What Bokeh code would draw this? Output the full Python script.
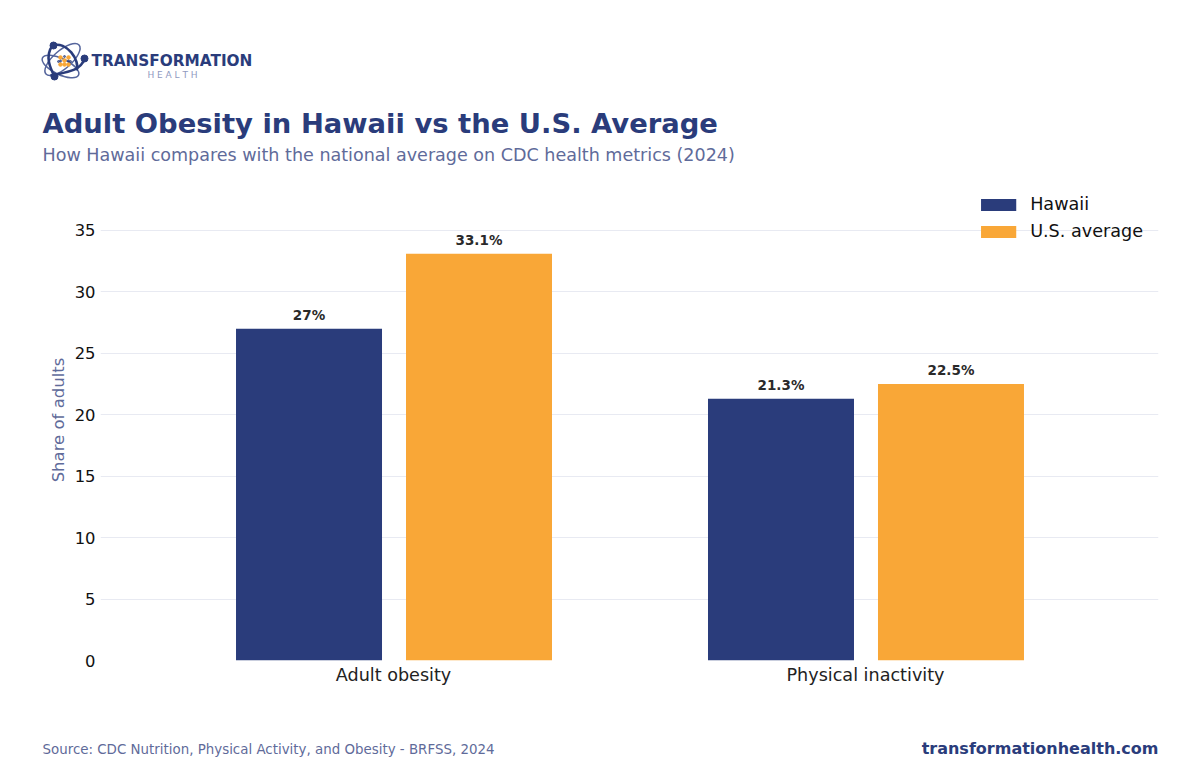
from bokeh.plotting import figure
from bokeh.core.properties import value
from bokeh.models import ColumnDataSource, FactorRange, Range1d, FixedTicker, Legend, LegendItem
from bokeh.layouts import column
from bokeh.transform import dodge
from bokeh.embed import file_html
from bokeh.resources import INLINE

categories = ["Adult obesity", "Physical inactivity"]
hawaii = [27, 21.3]
us_average = [33.1, 22.5]
y_ticks = [0, 5, 10, 15, 20, 25, 30, 35]
title_text = "Adult Obesity in Hawaii vs the U.S. Average"
subtitle_text = "How Hawaii compares with the national average on CDC health metrics (2024)"
source_text = "Source: CDC Nutrition, Physical Activity, and Obesity - BRFSS, 2024"
site_text = "transformationhealth.com"

NAVY = "#2a3c7b"
ORANGE = "#f9a737"
MUTED = "#5f6b9a"
FONT = "DejaVu Sans"
F = value(FONT)


def canvas(w, h, x0, x1, y0, y1):
    f = figure(width=w, height=h, x_range=Range1d(x0, x1), y_range=Range1d(y0, y1),
               output_backend="svg", toolbar_location=None, min_border=0,
               outline_line_color=None, x_axis_type=None, y_axis_type=None)
    f.grid.visible = False
    return f


# header: page-pixel coordinates
head = canvas(1190, 170, 0, 1190, 170, 0)
head.ellipse(x=[62], y=[59], width=[44], height=[18], angle=[0.72], fill_alpha=0,
             line_color="#55659c", line_width=1.5)
head.ellipse(x=[60], y=[66], width=[40], height=[16], angle=[-0.45], fill_alpha=0,
             line_color="#55659c", line_width=1.5)
head.bezier(x0=[52, 84], y0=[45, 58], x1=[76, 50], y1=[70, 75], cx0=[66, 80], cy0=[40, 72],
            cx1=[80, 62], cy1=[60, 72], line_color=NAVY, line_width=2.6)
head.bezier(x0=[52], y0=[45], x1=[54], y1=[76], cx0=[44], cy0=[56], cx1=[50], cy1=[68],
            line_color=NAVY, line_width=2.6)
head.scatter(x=[53, 84, 54], y=[45, 58, 76], size=7, color=NAVY)
head.scatter(x=[60, 64, 68, 60, 68, 64], y=[57, 60, 57, 64, 64, 64], size=3.6, color=ORANGE)
head.scatter(x=[64, 60, 68, 58, 70], y=[56, 60.5, 60.5, 61, 61], size=2, color=NAVY, alpha=0.7)
head.text(x=[91], y=[60], text=["TRANSFORMATION"], text_font=F, text_font_style="bold",
          text_font_size="15.3px", text_color=NAVY, text_baseline="middle")
head.text(x=[172], y=[74.5], text=["H E A L T H"], text_font=F, text_font_size="9px",
          text_color="#8f99bf", text_baseline="middle", text_align="center")
head.text(x=[42], y=[122.5], text=[title_text], text_font=F, text_font_style="bold",
          text_font_size="27.4px", text_color=NAVY, text_baseline="middle")
head.text(x=[42], y=[154.5], text=[subtitle_text], text_font=F,
          text_font_size="17.55px", text_color=MUTED, text_baseline="middle")

# main chart
source = ColumnDataSource(dict(
    cat=categories, hawaii=hawaii, us=us_average,
    hawaii_label=[f"{v:g}%" for v in hawaii],
    us_label=[f"{v:g}%" for v in us_average],
))
p = figure(width=1190, height=530,
           x_range=FactorRange(factors=categories, range_padding=0.1208, range_padding_units="percent"),
           y_range=Range1d(0, 481 / 12.286),
           output_backend="svg", toolbar_location=None,
           min_border_left=100, min_border_right=32, min_border_top=9, min_border_bottom=40,
           outline_line_color=None)
OFFSET_L = -84.5 / 472
OFFSET_R = 85.5 / 472
WIDTH = 146 / 472
r1 = p.vbar(x=dodge("cat", OFFSET_L, range=p.x_range), top="hawaii", width=WIDTH, source=source,
            color=NAVY, line_color=None)
r2 = p.vbar(x=dodge("cat", OFFSET_R, range=p.x_range), top="us", width=WIDTH, source=source,
            color=ORANGE, line_color=None)
for col, lab, off in (("hawaii", "hawaii_label", OFFSET_L), ("us", "us_label", OFFSET_R)):
    p.text(x=dodge("cat", off, range=p.x_range), y=col, text=lab, source=source, text_font=F,
           text_font_style="bold", text_font_size="13.5px", text_color="#2a2a2a",
           text_align="center", text_baseline="bottom", y_offset=-6)

p.xgrid.visible = False
p.ygrid.grid_line_color = "#e8eaf2"
p.ygrid.grid_line_width = 1
p.ygrid.ticker = FixedTicker(ticks=y_ticks)
p.yaxis.ticker = FixedTicker(ticks=y_ticks)
p.yaxis.axis_line_color = None
p.yaxis.major_tick_line_color = None
p.yaxis.major_tick_out = 0
p.yaxis.major_tick_in = 0
p.yaxis.minor_tick_line_color = None
p.yaxis.major_label_text_font = FONT
p.yaxis.major_label_text_font_size = "16.4px"
p.yaxis.major_label_text_color = "#111111"
p.yaxis.major_label_standoff = 5
p.yaxis.axis_label = "Share of adults"
p.yaxis.axis_label_text_font = FONT
p.yaxis.axis_label_text_font_size = "16.5px"
p.yaxis.axis_label_text_font_style = "normal"
p.yaxis.axis_label_text_color = MUTED
p.yaxis.axis_label_standoff = 4
p.xaxis.axis_line_color = None
p.xaxis.major_tick_line_color = None
p.xaxis.major_tick_out = 0
p.xaxis.major_tick_in = 0
p.xaxis.minor_tick_line_color = None
p.xaxis.major_label_text_font = FONT
p.xaxis.major_label_text_font_size = "17.6px"
p.xaxis.major_label_text_color = "#222222"
p.xaxis.major_label_standoff = 4

legend = Legend(items=[LegendItem(label="Hawaii", renderers=[r1]),
                       LegendItem(label="U.S. average", renderers=[r2])],
                location="top_right", background_fill_alpha=0, border_line_color=None,
                glyph_width=44, glyph_height=15, label_standoff=10, spacing=7,
                margin=15, padding=8, label_text_font=FONT, label_text_font_size="17.6px",
                label_text_color="#111111")
p.add_layout(legend)

# footer
foot = canvas(1190, 60, 0, 1190, 760, 700)
foot.text(x=[42], y=[749], text=[source_text], text_font=F, text_font_size="13.4px",
          text_color=MUTED, text_baseline="middle")
foot.text(x=[1158], y=[748], text=[site_text], text_font=F, text_font_style="bold",
          text_font_size="16px", text_color=NAVY, text_baseline="middle", text_align="right")

page = column(head, column(p), foot, spacing=0)
open("out.html", "w").write(file_html(page, INLINE))
